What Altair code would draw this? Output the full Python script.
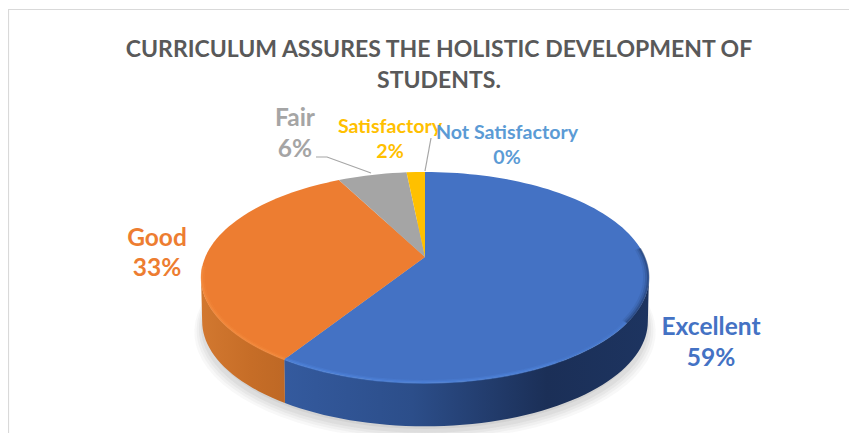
import math
import altair as alt
import pandas as pd

categories = ["Excellent", "Good", "Fair", "Satisfactory", "Not Satisfactory"]
shares = [59.0, 33.4, 6.0, 1.6, 0]
percent_labels = ["59%", "33%", "6%", "2%", "0%"]
title_lines = ["CURRICULUM ASSURES THE HOLISTIC DEVELOPMENT OF", "STUDENTS."]

W, H = 841, 425
CX, CY, RX, RY, K = 425, 257, 219.7, 101.5, 0.194
DEPTH = 44
FONT = "Lato"

xs = alt.Scale(domain=[8, 8 + W], range=[0, W], nice=False, zero=False)
ys = alt.Scale(domain=[8, 8 + H], range=[0, H], nice=False, zero=False)


def rim(deg, dy=0.0, shrink=1.0):
    t = math.radians(deg)
    d = 1 + K * math.cos(t)
    return (CX + shrink * RX * math.sin(t) / d, CY + dy - shrink * RY * math.cos(t) / d)


def sweep(a, b, dy=0.0, shrink=1.0, step=2.0):
    n = max(2, int(abs(b - a) / step) + 1)
    return [rim(a + (b - a) * i / (n - 1), dy, shrink) for i in range(n)]


def frame(pts):
    return pd.DataFrame({"px": [p[0] for p in pts], "py": [p[1] for p in pts], "i": list(range(len(pts)))})


def enc(pts):
    return alt.Chart(frame(pts)).properties(width=W, height=H).encode(
        x=alt.X("px:Q", scale=xs, axis=None),
        y=alt.Y("py:Q", scale=ys, axis=None),
        order=alt.Order("i:Q"),
    )


def poly(pts, fill, opacity=1.0):
    return enc(pts).mark_line(fill=fill, stroke="transparent", strokeWidth=0, opacity=opacity, interpolate="linear")


def path(pts, color, width=1.0, opacity=1.0):
    return enc(pts).mark_line(stroke=color, strokeWidth=width, opacity=opacity, strokeCap="butt")


def hgrad(stops):
    return alt.Gradient(gradient="linear", x1=0, x2=1, y1=0, y2=0,
                        stops=[alt.GradientStop(offset=o, color=c) for o, c in stops])


cum = [0]
for s in shares:
    cum.append(cum[-1] + s)
ang = [c * 3.6 for c in cum]
TANG_R = 101.2
TANG_L = 258.8
layers = []

# card border
layers.append(path([(8.5, 8 + H), (8.5, 9.5), (8 + W, 9.5)], "#D9D9D9", 1.2))

# soft shadow under the pie
for grow, op in [(1.03, 0.05), (1.02, 0.06), (1.01, 0.08), (1.0, 0.09), (0.985, 0.11), (0.97, 0.12)]:
    layers.append(poly(sweep(0, 360, DEPTH + 2 + (grow - 0.97) * 130, grow, 4), "#7F7F7F", op))

# side wall
wall_colors = [
    hgrad([(0, "#345A9E"), (0.35, "#2C4E8A"), (0.72, "#1B2F57"), (1, "#1D3460")]),
    hgrad([(0, "#D27830"), (0.6, "#C66D27"), (1, "#BE6825")]),
]
wall_ranges = [(TANG_R, ang[1]), (ang[1], TANG_L)]
for (a, b), col in zip(wall_ranges, wall_colors):
    layers.append(poly(sweep(a, b) + sweep(b, a, DEPTH, 0.995), col))

# top surface
top_colors = ["#4472C4", "#ED7D31", "#A5A5A5", "#FFC000", "#5B9BD5"]
for i, col in enumerate(top_colors):
    if shares[i] > 0:
        layers.append(poly([(CX, CY)] + sweep(ang[i], ang[i + 1]), col))

# bevel highlights along the front rim, widest and faintest first
for shrink, width, op in [(0.992, 4.0, 0.25), (0.996, 2.4, 0.5)]:
    layers.append(path(sweep(150, ang[1], 0, shrink), "#4F86DE", width, op))
    layers.append(path(sweep(125, 150, 0, shrink), "#4F86DE", width, op * 0.5))
    layers.append(path(sweep(ang[1], TANG_L + 6, 0, shrink), "#F58D40", width, op))

# dark fade where the top surface meets the shaded wall on the right
for shrink, width, op in [(0.985, 5.0, 0.12), (0.992, 4.0, 0.22), (0.997, 2.4, 0.4)]:
    layers.append(path(sweep(TANG_R - 16, TANG_R + 24, 0, shrink), "#1F3864", width, op))

# leader lines
layers.append(path([(316, 157), (327, 157), (371, 173)], "#A6A6A6", 1.2))
layers.append(path([(431, 138), (425, 171)], "#A6A6A6", 1.2))


def txt(s, cx, cy, size, color, bold=True):
    return alt.Chart(pd.DataFrame({"t": [s]})).mark_text(
        font=FONT, fontSize=size, fontWeight="bold" if bold else "normal", color=color,
        align="center", baseline="middle",
    ).encode(text="t:N", x=alt.value(cx - 8), y=alt.value(cy - 8))


layers.append(txt(title_lines[0], 439, 50, 23, "#595959"))
layers.append(txt(title_lines[1], 439, 81, 23, "#595959"))
label_spots = [
    (711, 328, 359, 24.5, "#4472C4"),
    (157, 239, 269, 24.5, "#ED7D31"),
    (295, 119, 150, 24.5, "#A5A5A5"),
    (390, 127, 152, 19.6, "#FFC000"),
    (507, 133, 158, 19.6, "#5B9BD5"),
]
for name, pct, (cx, y1, y2, size, color) in zip(categories, percent_labels, label_spots):
    layers.append(txt(name, cx, y1, size, color))
    layers.append(txt(pct, cx, y2, size, color))

chart = alt.layer(*layers).properties(
    width=W, height=H, padding=0, autosize=alt.AutoSizeParams(type="none"), background="#FFFFFF"
).configure_view(stroke=None)

chart.save("out.html", embed_options={"renderer": "svg", "actions": False})
